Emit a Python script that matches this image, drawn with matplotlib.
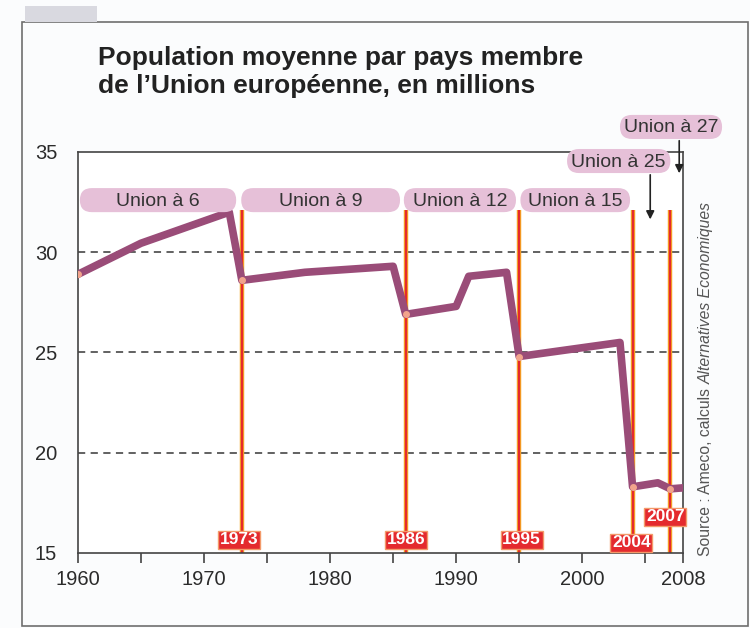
import matplotlib
matplotlib.use("Agg")
import matplotlib.pyplot as plt
from matplotlib.patches import FancyBboxPatch, Rectangle

plt.rcParams['font.family'] = ['Liberation Sans', 'DejaVu Sans']

# données
years = [1960, 1965, 1972, 1973, 1978, 1985, 1986, 1990, 1991, 1994, 1995, 2003, 2004, 2006, 2007, 2008]
pop = [28.9, 30.45, 32.0, 28.6, 29.0, 29.3, 26.9, 27.3, 28.8, 29.0, 24.8, 25.5, 18.3, 18.5, 18.2, 18.25]

enlargements = [1973, 1986, 1995, 2004, 2007]
enl_values = [28.6, 26.9, 24.8, 18.3, 18.2]

unions = ['Union à 6', 'Union à 9', 'Union à 12', 'Union à 15']
union_start = [1960.15, 1972.95, 1985.85, 1995.1]
union_end = [1972.55, 1985.55, 1994.75, 2003.8]

late_unions = ['Union à 25', 'Union à 27']
late_start = [1998.8, 2003.0]
late_end = [2007.0, 2011.1]
late_y = [34.55, 36.25]
late_arrow_x = [2005.4, 2007.7]
late_arrow_y = [31.5, 33.8]

line_col = '#9a4c78'
pill_col = '#e6c0d8'
red = '#e42a2e'
text_col = '#2b2b2b'

fig = plt.figure(figsize=(7.5, 6.28), dpi=100, facecolor='#fbfcfd')
ax = fig.add_axes([78 / 750, 1 - 553 / 628, 605 / 750, 401 / 628])
ax.set_facecolor('white')
ax.set_xlim(1960, 2008)
ax.set_ylim(15, 35)

# cadre extérieur et onglet gris
fig.patches.append(Rectangle((22 / 750, 2 / 628), 726 / 750, 604 / 628, transform=fig.transFigure,
                             fill=False, edgecolor='#6f6f6f', linewidth=1.2))
fig.patches.append(Rectangle((25 / 750, 606 / 628), 72 / 750, 16 / 628, transform=fig.transFigure,
                             facecolor='#d9d9e0', edgecolor='none'))

for y in [20, 25, 30]:
    ax.axhline(y, color='#555555', linestyle=(0, (4, 3)), linewidth=1.3, zorder=1)

# lignes verticales des élargissements
for yr in enlargements:
    ax.plot([yr, yr], [15, 32.1], color='#f5a623', linewidth=3.2, zorder=2, solid_capstyle='butt')
    ax.plot([yr, yr], [15, 32.1], color=red, linewidth=1.6, zorder=2, solid_capstyle='butt')

ax.plot(years, pop, color=line_col, linewidth=5.5, solid_joinstyle='round', zorder=3)
ax.plot([1960] + enlargements, [28.9] + enl_values, 'o', color='#f2a48c', markersize=4, zorder=4)

# étiquettes des années
box_x = [1972.8, 1986.0, 1995.2, 2003.9, 2006.6]
box_y = [15.65, 15.65, 15.65, 15.5, 16.8]
for yr, bx, by in zip(enlargements, box_x, box_y):
    ax.text(bx, by, str(yr), ha='center', va='center', color='white', fontsize=12.5,
            family=['Liberation Sans Narrow', 'Liberation Sans'], fontweight='bold', zorder=6,
            bbox=dict(boxstyle='square,pad=0.1', facecolor=red, edgecolor='#f39a6a', linewidth=1))

aspect = (605 / 48) / (401 / 20)


def pill(x0, x1, yc, label):
    h = 1.2
    p = FancyBboxPatch((x0, yc - h / 2), x1 - x0, h, boxstyle='round,pad=0,rounding_size=0.95',
                       mutation_aspect=aspect, facecolor=pill_col, edgecolor='none',
                       clip_on=False, zorder=5)
    ax.add_patch(p)
    ax.text((x0 + x1) / 2, yc - 0.05, label, ha='center', va='center', fontsize=14,
            color='#333333', clip_on=False, zorder=6)


for lab, s, e in zip(unions, union_start, union_end):
    pill(s, e, 32.6, lab)
for lab, s, e, yc, axx, ay in zip(late_unions, late_start, late_end, late_y, late_arrow_x, late_arrow_y):
    ax.annotate('', xy=(axx, ay), xytext=(axx, yc - 0.55), annotation_clip=False,
                arrowprops=dict(arrowstyle='-|>', color='#222222', linewidth=1.2, mutation_scale=12))
    pill(s, e, yc, lab)

ax.set_xticks([1960, 1965, 1970, 1975, 1980, 1985, 1990, 1995, 2000, 2005, 2008])
ax.set_xticklabels(['1960', '', '1970', '', '1980', '', '1990', '', '2000', '', '2008'])
ax.set_yticks([15, 20, 25, 30, 35])
ax.tick_params(axis='x', direction='out', length=7, width=1.2, color='#444444', pad=5,
               labelsize=14.5, labelcolor=text_col)
ax.tick_params(axis='y', length=0, pad=15, labelsize=14.5, labelcolor=text_col)
for s in ax.spines.values():
    s.set_color('#444444')
    s.set_linewidth(1.2)

fig.text(98 / 750, 1 - 46 / 628, "Population moyenne par pays membre\nde l\u2019Union européenne, en millions",
         ha='left', va='top', fontsize=19, fontweight='bold', color='#222222', linespacing=1.2)

# source en vertical
fig.canvas.draw()
t1 = fig.text(706 / 750, 1 - 556 / 628, 'Source : Ameco, calculs ', rotation=90, ha='center', va='bottom',
              fontsize=11.3, color='#555555')
bb = t1.get_window_extent(fig.canvas.get_renderer())
fig.text(706 / 750, bb.y1 / fig.bbox.height, 'Alternatives Economiques', rotation=90, ha='center',
         va='bottom', fontsize=11.3, color='#555555', style='italic')

fig.savefig('out.png', dpi=100, facecolor=fig.get_facecolor())
